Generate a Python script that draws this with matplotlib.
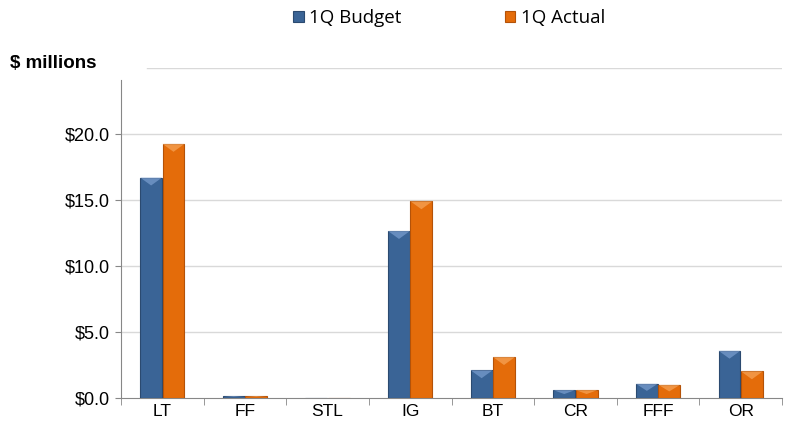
import numpy as np
import matplotlib
matplotlib.use("Agg")
import matplotlib.pyplot as plt
from matplotlib.patches import Polygon

categories = ["LT", "FF", "STL", "IG", "BT", "CR", "FFF", "OR"]
budget = [16.7, 0.15, 0.0, 12.65, 2.1, 0.6, 1.08, 3.58]
actual = [19.25, 0.15, 0.0, 14.9, 3.1, 0.6, 1.0, 2.02]
series_names = ["1Q Budget", "1Q Actual"]
y_ticks = [0, 5, 10, 15, 20]

blue = "#3A6496"
orange = "#E46C0A"

plt.rcParams["font.family"] = ["Liberation Sans", "DejaVu Sans"]

fig = plt.figure(figsize=(7.9, 4.28), dpi=100)
ax = fig.add_axes([121 / 790, 1 - 398 / 428, 661 / 790, 330 / 428])

x = np.arange(len(categories))
w = 0.265
gap = 0.006


def bevel(bars, light):
    # lighter triangle on top of each bar, taken from the bar's own geometry
    for b in bars:
        h = b.get_height()
        if h <= 0.05:
            continue
        x0, bw = b.get_x(), b.get_width()
        d = min(0.6, h * 0.5)
        tri = Polygon([[x0, h], [x0 + bw, h], [x0 + bw / 2, h - d]],
                      closed=True, facecolor=light, edgecolor="none",
                      alpha=0.6, zorder=4)
        ax.add_patch(tri)


b1 = ax.bar(x - w / 2 - gap / 2, budget, w, color=blue, edgecolor="#2B4A70",
            linewidth=0.8, zorder=3, label=series_names[0])
b2 = ax.bar(x + w / 2 + gap / 2, actual, w, color=orange, edgecolor="#B45208",
            linewidth=0.8, zorder=3, label=series_names[1])
bevel(b1, "#86A9DA")
bevel(b2, "#FAB068")

ax.set_xlim(-0.5, len(categories) - 0.5)
ax.set_ylim(0, 25)
ax.set_yticks(y_ticks)
ax.set_yticklabels(["${:.1f}".format(v) for v in y_ticks], fontsize=13)
ax.set_xticks(x)
ax.set_xticklabels(categories, fontsize=12.5)
ax.set_xticks(np.arange(len(categories) + 1) - 0.5, minor=True)
ax.tick_params(axis="x", which="major", length=0, pad=4)
ax.tick_params(axis="x", which="minor", length=5, color="#878787", direction="out")
ax.tick_params(axis="y", length=4, color="#878787", pad=4)

for v in y_ticks[1:]:
    ax.axhline(v, color="#D9D9D9", linewidth=1, zorder=0)
ax.axhline(25, xmin=0.04, color="#D9D9D9", linewidth=1, zorder=0)

for s in ["top", "right"]:
    ax.spines[s].set_visible(False)
ax.spines["left"].set_color("#878787")
ax.spines["bottom"].set_color("#878787")
ax.spines["left"].set_bounds(0, 24.1)

fig.text(10 / 790, 1 - 64 / 428, "$ millions", fontsize=13.5, fontweight="bold",
         va="center", ha="left")

leg = fig.legend(handles=[b1, b2], loc="center", bbox_to_anchor=(449 / 790, 1 - 18 / 428),
                 ncol=2, frameon=False, handlelength=0.55, handleheight=0.55,
                 handletextpad=0.3, columnspacing=5.5,
                 prop={"family": ["Open Sans", "DejaVu Sans"], "size": 13.5})

fig.savefig("out.png", dpi=100)
